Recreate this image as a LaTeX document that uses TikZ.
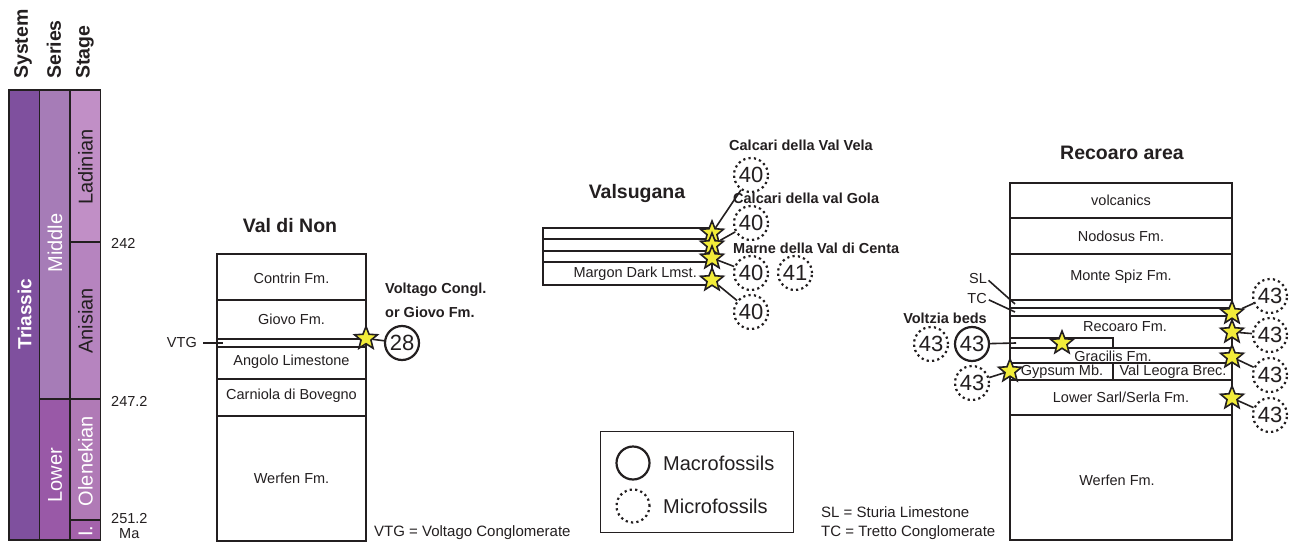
\documentclass[tikz,border=0pt]{standalone}
\usepackage{fontspec}
\setmainfont{Liberation Sans}
\usetikzlibrary{shapes.geometric}
\definecolor{ink}{HTML}{231F20}
\definecolor{triassic}{RGB}{127,80,158}
\definecolor{middleser}{RGB}{166,124,183}
\definecolor{lowerser}{RGB}{153,89,167}
\definecolor{ladinian}{RGB}{193,143,198}
\definecolor{anisian}{RGB}{182,132,191}
\definecolor{olenekian}{RGB}{176,122,182}
\definecolor{induan}{RGB}{164,98,171}
\definecolor{staryellow}{RGB}{242,236,58}
\newcommand{\fsz}[1]{\fontsize{#1}{#1}\selectfont}
\begin{document}
\begin{tikzpicture}[x=1pt,y=-1pt,
  txt/.style={inner sep=0pt, text=ink},
  fm/.style={txt, font=\fsz{14.5}},
  lab/.style={txt, font=\fsz{14.5}\bfseries},
  ttl/.style={txt, font=\fsz{19.5}\bfseries},
  note/.style={txt, font=\fsz{15}},
  legtxt/.style={txt, font=\fsz{20}},
  layer/.style={draw=ink, line width=2.8pt},
  timebox/.style={draw=ink, line width=1.2pt},
  vlab/.style={inner sep=0pt, rotate=90, font=\fsz{20}},
  head/.style={inner sep=0pt, rotate=90, anchor=west, font=\fsz{19.5}\bfseries, text=ink},
  fossil/.style={circle, draw=ink, line width=2.2pt, minimum size=34pt, inner sep=0pt, font=\fsz{22}, text=ink},
  macro/.style={fossil},
  micro/.style={fossil, dash pattern=on 2.2pt off 3.2pt},
  fstar/.style={star, star points=5, star point ratio=2.3, draw=ink, fill=staryellow, line width=1.6pt, minimum size=24pt, inner sep=0pt},
  link/.style={draw=ink, line width=1.6pt},
]
\fill[white] (0,0) rectangle (1292,543);
\useasboundingbox (0,0) rectangle (1292,543);

% ---------- time scale ----------
\node[head] (hsys) at (23,79) {System};
\node[head] (hser) at (54,79) {Series};
\node[head] (hsta) at (85,79) {Stage};

\path[timebox, fill=triassic] (9,90) rectangle (39.5,540);
\path[timebox, fill=middleser] (39.5,90) rectangle (70,399);
\path[timebox, fill=lowerser] (39.5,399) rectangle (70,540);
\path[timebox, fill=ladinian] (70,90) rectangle (100.5,242);
\path[timebox, fill=anisian] (70,242) rectangle (100.5,399);
\path[timebox, fill=olenekian] (70,399) rectangle (100.5,520);
\path[timebox, fill=induan] (70,520) rectangle (100.5,540);

\node[vlab, text=white, font=\fsz{19}\bfseries] (triassic) at (24.5,314) {Triassic};
\node[vlab, text=white] (middle) at (55,243) {Middle};
\node[vlab, text=white] (lower) at (55,475) {Lower};
\node[vlab, text=ink] (ladin) at (85.5,167) {Ladinian};
\node[vlab, text=ink] (anis) at (85.5,321) {Anisian};
\node[vlab, text=white] (olen) at (85.5,461) {Olenekian};
\node[vlab, text=white] (ind) at (85.5,531) {I.};

\node[fm, anchor=west] (a242) at (111,243) {242};
\node[fm, anchor=west] (a247) at (111,401) {247.2};
\node[fm, anchor=west] (a251) at (111,519) {251.2};
\node[fm, anchor=west] (ama) at (119,534) {Ma};

% ---------- Val di Non ----------
\node[ttl] (tvdn) at (290,226) {Val di Non};
\draw[layer] (217,254) rectangle (366,541);
\foreach \yy in {300,339,347,379,416} \draw[layer] (217,\yy) -- (366,\yy);
\node[fm] (contrin) at (291.5,278) {Contrin Fm.};
\node[fm] (giovo) at (291.5,319) {Giovo Fm.};
\node[fm] (angolo) at (291.5,362) {Angolo Limestone};
\node[fm] (carniola) at (291.5,396) {Carniola di Bovegno};
\node[fm] (werfenA) at (291.5,478) {Werfen Fm.};
\node[fm, anchor=east] (vtg) at (197,343) {VTG};
\coordinate (vtgend) at (223,343);
\draw[link, shorten <=6pt] (vtg.east) -- (vtgend);
\node[lab, anchor=west] (volt1) at (385,290) {Voltago Congl.};
\node[lab, anchor=west] (volt2) at (385,312) {or Giovo Fm.};
\node[macro] (c28) at (402,343) {28};
\node[fstar] (s28) at (366,338.5) {};
\draw[link] (s28) -- (c28);
\node[note, anchor=west] (vtgnote) at (374,533) {VTG = Voltago Conglomerate};

% ---------- Valsugana ----------
\node[ttl] (tvals) at (637,193) {Valsugana};
\draw[layer] (543,228) rectangle (712,285);
\foreach \yy in {239,251,262} \draw[layer] (543,\yy) -- (712,\yy);
\node[fm, anchor=east] (margon) at (697,274) {Margon Dark Lmst.};
\node[lab, anchor=west] (lvela) at (729,145) {Calcari della Val Vela};
\node[lab, anchor=west] (lgola) at (733,198) {Calcari della val Gola};
\node[lab, anchor=west] (lcenta) at (733,248) {Marne della Val di Centa};
\node[micro] (v1) at (751,175) {40};
\node[micro] (v2) at (751,223) {40};
\node[micro] (v3) at (751,273) {40};
\node[micro] (v4) at (795,273) {41};
\node[micro] (v5) at (751,312) {40};
\node[fstar] (vs1) at (712,233) {};
\node[fstar] (vs2) at (712,245) {};
\node[fstar] (vs3) at (712,258) {};
\node[fstar] (vs4) at (712,280) {};
\draw[link] (vs1) -- (v1);
\draw[link] (vs2) -- (v2);
\draw[link] (vs3) -- (v3);
\draw[link] (vs4) -- (v5);

% ---------- legend ----------
\node[draw=ink, line width=1.2pt, minimum width=193pt, minimum height=101pt, inner sep=0pt, anchor=north west] (legend) at (600,431) {};
\node[macro, minimum size=33pt] (lmac) at (633,463) {};
\node[micro, minimum size=33pt] (lmic) at (633,506) {};
\node[legtxt, anchor=west] (tmac) at (663,463) {Macrofossils};
\node[legtxt, anchor=west] (tmic) at (663,506) {Microfossils};
\node[note, anchor=west] (slnote) at (821,512) {SL = Sturia Limestone};
\node[note, anchor=west] (tcnote) at (821,533) {TC = Tretto Conglomerate};

% ---------- Recoaro area ----------
\node[ttl] (trec) at (1122,153) {Recoaro area};
\draw[layer] (1010,183) rectangle (1232,540);
\foreach \yy in {218,254,300,308,316,348,363,380,415} \draw[layer] (1010,\yy) -- (1232,\yy);
\draw[layer] (1010,338) -- (1113,338) -- (1113,348);
\draw[layer] (1113,363) -- (1113,380);
\node[fm] (volc) at (1121,200) {volcanics};
\node[fm] (nodo) at (1121,236) {Nodosus Fm.};
\node[fm] (spiz) at (1121,277) {Monte Spiz Fm.};
\node[fm] (recfm) at (1125,327) {Recoaro Fm.};
\node[fm] (graci) at (1113,356) {Gracilis Fm.};
\node[fm] (gyps) at (1062,372) {Gypsum Mb.};
\node[fm] (leogra) at (1173,372) {Val Leogra Brec.};
\node[fm] (sarl) at (1121,397) {Lower Sarl/Serla Fm.};
\node[fm] (werfenB) at (1117,480) {Werfen Fm.};

\node[fm, anchor=east] (sl) at (987,279) {SL};
\node[fm, anchor=east] (tc) at (987,299) {TC};
\coordinate (slend) at (1015,304);
\coordinate (tcend) at (1015,312);
\draw[link, shorten <=2pt] (sl.east) -- (slend);
\draw[link, shorten <=2pt] (tc.east) -- (tcend);

\node[lab] (voltzia) at (945,318) {Voltzia beds};
\node[micro] (r1) at (931,344) {43};
\node[macro] (r2) at (972,344) {43};
\coordinate (voltend) at (1016,343);
\draw[link] (r2) -- (voltend);
\node[fstar] (rsv) at (1062,343) {};
\node[micro] (r3) at (972,383) {43};
\node[fstar] (rsg) at (1010,371) {};
\draw[link] (r3) -- (rsg);

\node[micro] (q1) at (1270,296) {43};
\node[micro] (q2) at (1270,335) {43};
\node[micro] (q3) at (1270,375) {43};
\node[micro] (q4) at (1270,415) {43};
\node[fstar] (qs1) at (1232,313) {};
\node[fstar] (qs2) at (1232,332) {};
\node[fstar] (qs3) at (1232,357) {};
\node[fstar] (qs4) at (1232,398) {};
\draw[link] (qs1) -- (q1);
\draw[link] (qs2) -- (q2);
\draw[link] (qs3) -- (q3);
\draw[link] (qs4) -- (q4);
\end{tikzpicture}
\end{document}
